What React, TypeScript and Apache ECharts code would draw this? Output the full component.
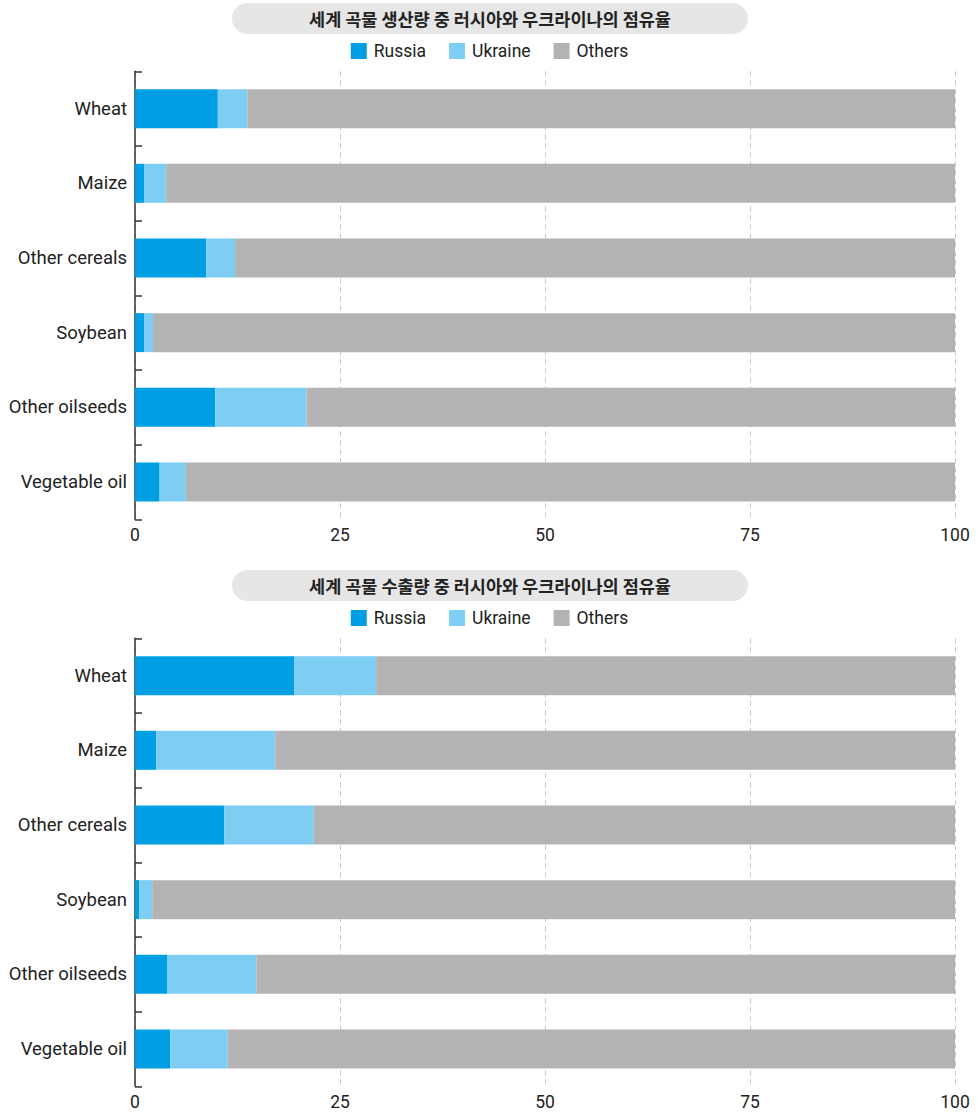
import React, { useEffect, useRef } from "react";
import * as echarts from "echarts";

const categories = ["Wheat", "Maize", "Other cereals", "Soybean", "Other oilseeds", "Vegetable oil"];
const xTicks = [0, 25, 50, 75, 100];

const titleProduction = "세계 곡물 생산량 중 러시아와 우크라이나의 점유율";
const titleExport = "세계 곡물 수출량 중 러시아와 우크라이나의 점유율";

const prodRussia = [10.1, 1.1, 8.7, 1.1, 9.8, 3.0];
const prodUkraine = [3.6, 2.7, 3.5, 1.1, 11.1, 3.2];
const prodOthers = [86.3, 96.2, 87.8, 97.8, 79.1, 93.8];

const expRussia = [19.4, 2.6, 10.9, 0.5, 3.9, 4.3];
const expUkraine = [10.0, 14.5, 10.9, 1.6, 10.9, 7.0];
const expOthers = [70.6, 82.9, 78.2, 97.9, 85.2, 88.7];

const seriesNames = ["Russia", "Ukraine", "Others"];
const colors = ["#009fe3", "#7ecef4", "#b3b3b3"];

const LABEL_FONT = "Roboto, 'Noto Sans', sans-serif";
const TITLE_FONT = "'Noto Sans CJK KR', sans-serif";

export default function App() {
  const ref = useRef<HTMLDivElement>(null);

  useEffect(() => {
    document.body.style.margin = "0";
    if (!ref.current) return;
    const chart = echarts.init(ref.current, null, { renderer: "svg" });

    const grids = [
      { left: 135, right: 24, top: 71.3, height: 448 },
      { left: 135, right: 24, top: 638.3, height: 448 },
    ];

    const xAxis = [0, 1].map((i) => ({
      type: "value",
      gridIndex: i,
      min: xTicks[0],
      max: xTicks[xTicks.length - 1],
      interval: 25,
      axisLine: { show: false },
      axisTick: { show: false },
      axisLabel: { fontSize: 17.5, color: "#222", fontFamily: LABEL_FONT, margin: 7 },
      splitLine: { show: true, lineStyle: { color: "#c8c8c8", type: [5, 4], width: 1 } },
    }));

    const yAxis = [0, 1].map((i) => ({
      type: "category",
      gridIndex: i,
      data: categories,
      inverse: true,
      axisLine: { show: true, lineStyle: { color: "#333", width: 1.5 } },
      axisTick: { show: true, inside: true, length: 7, lineStyle: { color: "#333", width: 1.5 } },
      axisLabel: { fontSize: 18.5, color: "#222", fontFamily: LABEL_FONT, margin: 8 },
      splitLine: { show: false },
    }));

    const dataSets = [
      [prodRussia, prodUkraine, prodOthers],
      [expRussia, expUkraine, expOthers],
    ];

    const series: any[] = [];
    dataSets.forEach((set, gi) => {
      set.forEach((vals, si) => {
        series.push({
          type: "bar",
          name: seriesNames[si],
          xAxisIndex: gi,
          yAxisIndex: gi,
          stack: "s" + gi,
          data: vals,
          barWidth: 39,
          itemStyle: { color: colors[si] },
          emphasis: { disabled: true },
        });
      });
    });

    const legendBase = {
      data: seriesNames,
      left: "center",
      orient: "horizontal",
      icon: "rect",
      itemWidth: 16,
      itemHeight: 16,
      itemGap: 23,
      textStyle: { fontSize: 17.5, color: "#222", fontFamily: LABEL_FONT, padding: [0, 0, 0, 2] },
      selectedMode: false,
    };

    const pill = (top: number, text: string) => ({
      type: "group",
      children: [
        {
          type: "rect",
          shape: { x: 232, y: top, width: 516, height: 31, r: 15.5 },
          style: { fill: "#e6e6e6" },
        },
        {
          type: "text",
          x: 490,
          y: top + 15.5,
          style: {
            text,
            fontSize: 17.5,
            fontWeight: "bold",
            fontFamily: TITLE_FONT,
            fill: "#222",
            align: "center",
            verticalAlign: "middle",
          },
        },
      ],
    });

    chart.setOption({
      animation: false,
      color: colors,
      grid: grids,
      xAxis,
      yAxis,
      legend: [
        { ...legendBase, top: 37 },
        { ...legendBase, top: 604 },
      ],
      graphic: [pill(3, titleProduction), pill(570, titleExport)],
      series,
    });

    return () => chart.dispose();
  }, []);

  return <div ref={ref} style={{ width: 979, height: 1113 }} />;
}
